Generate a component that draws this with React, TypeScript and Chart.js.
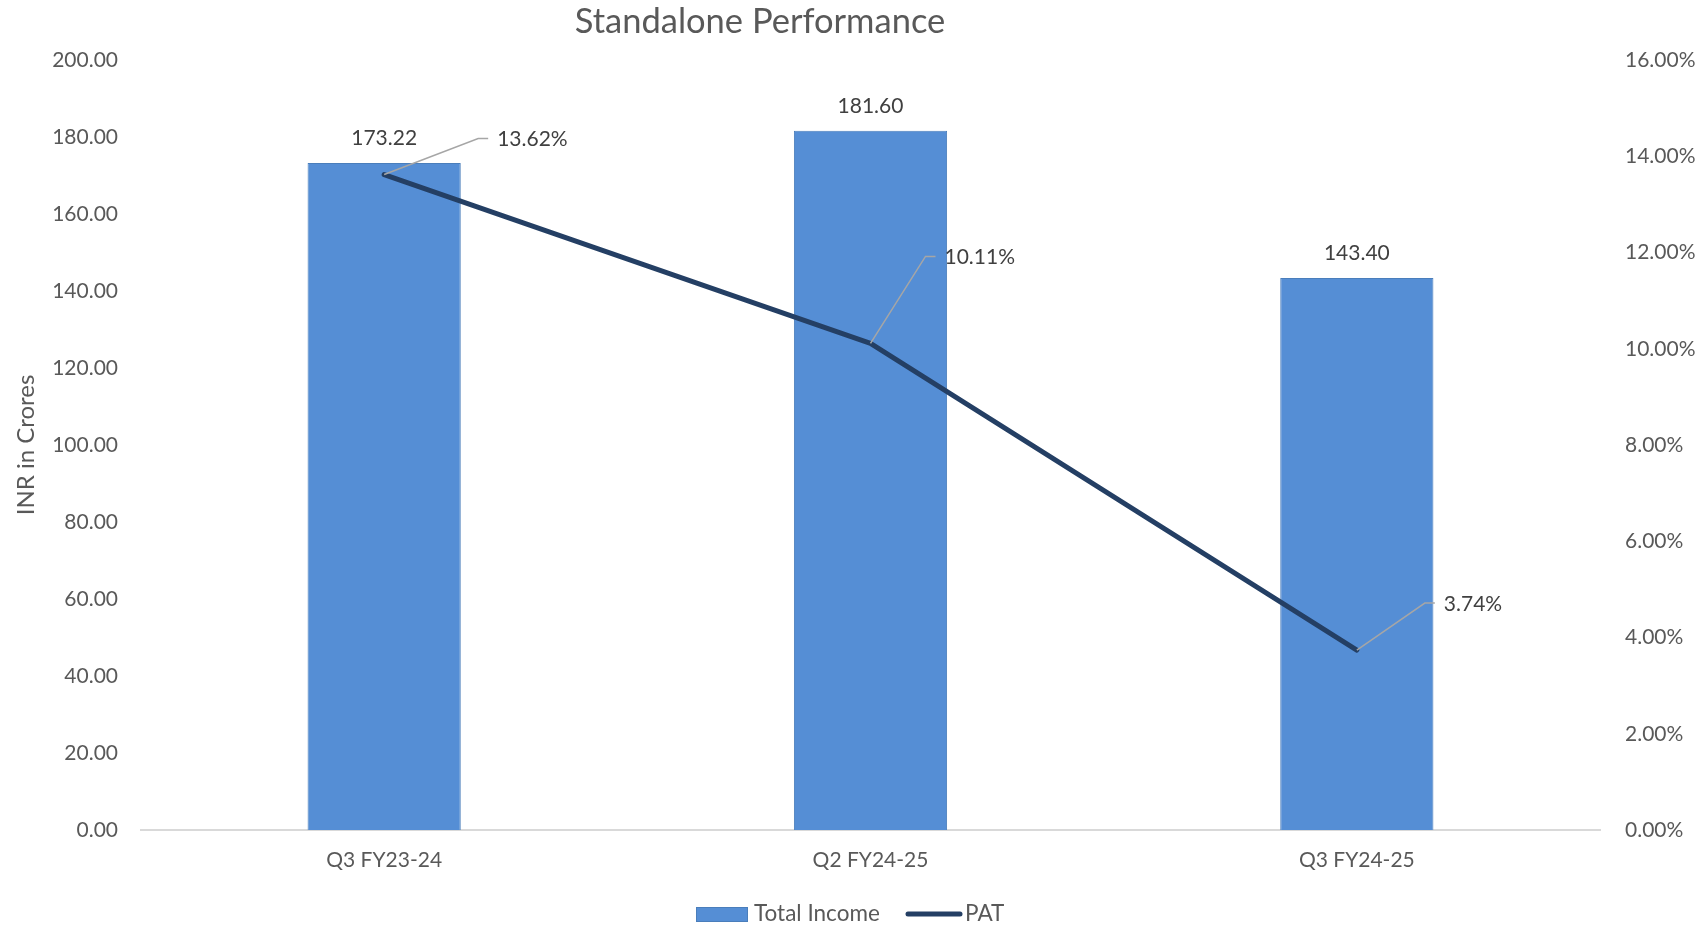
import React, { useEffect, useRef } from "react";
import { Chart, registerables } from "chart.js";

Chart.register(...registerables);

// ---------- data ----------
const categories = ["Q3 FY23-24", "Q2 FY24-25", "Q3 FY24-25"];
const totalIncome = [173.22, 181.6, 143.4];
const patMargin = [13.62, 10.11, 3.74];
const seriesNames = ["Total Income", "PAT"];
const chartTitle = "Standalone Performance";
const leftAxisTitle = "INR in Crores";
const leftAxisRange = [0, 200, 20];
const rightAxisRange = [0, 16, 2];

// leader-line bend offsets (dx, dy) for the PAT labels, in pixels from the point
const patLabelOffsets = [
  [94, -36],
  [55, -87],
  [68, -47],
];

const FONT = "Lato, 'Noto Sans', sans-serif";
const TEXT = "#595959";
const LABEL = "#404040";
const BAR_FILL = "#558ed5";
const BAR_EDGE = "#4a7ebb";
const LINE = "#243f64";

const labelsPlugin = {
  id: "customLabels",
  afterDatasetsDraw(chart: any) {
    const ctx = chart.ctx;
    ctx.save();
    ctx.font = `21px ${FONT}`;
    ctx.fillStyle = LABEL;
    ctx.textBaseline = "middle";
    const barMeta = chart.getDatasetMeta(0);
    ctx.textAlign = "center";
    barMeta.data.forEach((el: any, i: number) => {
      ctx.fillText(totalIncome[i].toFixed(2), el.x, el.y - 25);
    });
    const lineMeta = chart.getDatasetMeta(1);
    lineMeta.data.forEach((pt: any, i: number) => {
      const [dx, dy] = patLabelOffsets[i];
      ctx.strokeStyle = "#a6a6a6";
      ctx.lineWidth = 1.5;
      ctx.beginPath();
      ctx.moveTo(pt.x, pt.y);
      ctx.lineTo(pt.x + dx, pt.y + dy);
      ctx.lineTo(pt.x + dx + 10, pt.y + dy);
      ctx.stroke();
      ctx.textAlign = "left";
      ctx.fillText(patMargin[i].toFixed(2) + "%", pt.x + dx + 19, pt.y + dy + 1);
    });
    ctx.restore();
  },
  afterDraw(chart: any) {
    const ctx = chart.ctx;
    ctx.save();
    // title
    ctx.font = `34.5px ${FONT}`;
    ctx.fillStyle = TEXT;
    ctx.textAlign = "center";
    ctx.textBaseline = "middle";
    ctx.fillText(chartTitle, 760, 22);
    // legend
    ctx.font = `22.5px ${FONT}`;
    ctx.textAlign = "left";
    ctx.fillStyle = BAR_FILL;
    ctx.fillRect(696, 907, 52, 15);
    ctx.strokeStyle = BAR_EDGE;
    ctx.lineWidth = 1;
    ctx.strokeRect(696.5, 907.5, 51, 14);
    ctx.fillStyle = TEXT;
    ctx.fillText(seriesNames[0], 754, 914);
    ctx.strokeStyle = LINE;
    ctx.lineWidth = 5;
    ctx.lineCap = "round";
    ctx.beginPath();
    ctx.moveTo(908, 914);
    ctx.lineTo(960, 914);
    ctx.stroke();
    ctx.fillText(seriesNames[1], 965, 914);
    ctx.restore();
  },
};

export default function App() {
  const ref = useRef<HTMLCanvasElement | null>(null);
  useEffect(() => {
    if (!ref.current) return;
    const chart = new Chart(ref.current, {
      type: "bar",
      data: {
        labels: categories,
        datasets: [
          {
            type: "bar",
            label: seriesNames[0],
            data: totalIncome,
            backgroundColor: BAR_FILL,
            borderColor: BAR_EDGE,
            borderWidth: 1,
            barPercentage: 0.315,
            categoryPercentage: 1,
            yAxisID: "y",
            order: 2,
          } as any,
          {
            type: "line",
            label: seriesNames[1],
            data: patMargin,
            borderColor: LINE,
            backgroundColor: LINE,
            borderWidth: 5,
            borderCapStyle: "round",
            borderJoinStyle: "round",
            pointRadius: 0,
            tension: 0,
            yAxisID: "y1",
            order: 1,
          } as any,
        ],
      },
      options: {
        responsive: false,
        animation: false,
        devicePixelRatio: 1,
        layout: { padding: { top: 60, bottom: 0, left: 0, right: 0 } },
        plugins: {
          legend: { display: false },
          title: { display: false },
          tooltip: { enabled: false },
        },
        scales: {
          x: {
            grid: { display: false, drawTicks: false },
            border: { display: true, color: "#d9d9d9", width: 2 },
            ticks: { font: { family: FONT, size: 21 }, color: TEXT, padding: 18 },
            afterFit: (s: any) => {
              s.height = 98;
            },
          },
          y: {
            position: "left",
            min: leftAxisRange[0],
            max: leftAxisRange[1],
            grid: { display: false, drawTicks: false },
            border: { display: false },
            ticks: {
              stepSize: leftAxisRange[2],
              font: { family: FONT, size: 21 },
              color: TEXT,
              padding: 23,
              callback: (v: any) => Number(v).toFixed(2),
            },
            title: {
              display: true,
              text: leftAxisTitle,
              font: { family: FONT, size: 24 },
              color: TEXT,
              padding: { top: 12, bottom: 0 },
            },
            afterFit: (s: any) => {
              s.width = 141;
            },
          },
          y1: {
            position: "right",
            min: rightAxisRange[0],
            max: rightAxisRange[1],
            grid: { display: false, drawTicks: false },
            border: { display: false },
            ticks: {
              stepSize: rightAxisRange[2],
              font: { family: FONT, size: 21 },
              color: TEXT,
              padding: 25,
              callback: (v: any) => Number(v).toFixed(2) + "%",
            },
            afterFit: (s: any) => {
              s.width = 103;
            },
          },
        },
      } as any,
      plugins: [labelsPlugin],
    });
    return () => chart.destroy();
  }, []);
  return (
    <div style={{ position: "absolute", left: 0, top: 0, width: 1703, height: 928, background: "#fff" }}>
      <canvas ref={ref} width={1703} height={928} />
    </div>
  );
}
